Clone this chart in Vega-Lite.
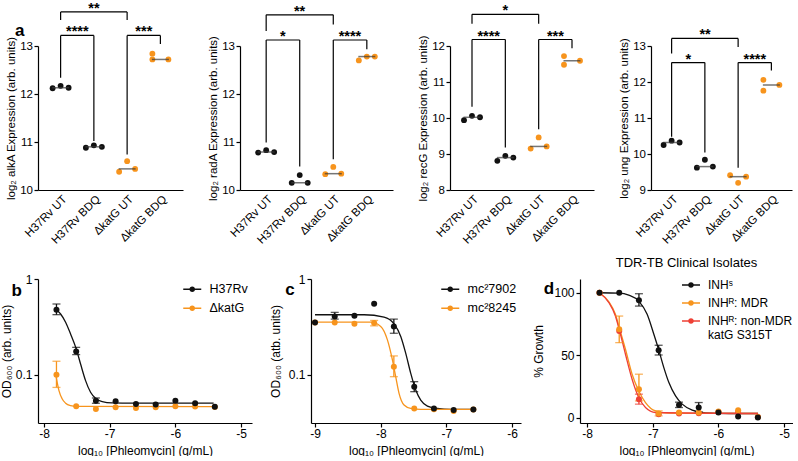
{
  "$schema": "https://vega.github.io/schema/vega-lite/v6.json",
  "background": "white",
  "padding": 0,
  "bounds": "flush",
  "spacing": 233,
  "resolve": {"scale": {"color": "independent", "xOffset": "independent"}, "legend": {"color": "independent"}},
  "config": {
    "font": "Liberation Sans",
    "view": {"stroke": null},
    "axis": {"labelFont": "Liberation Sans", "titleFont": "Liberation Sans", "labelColor": "#000", "titleColor": "#000", "domainColor": "#000", "tickColor": "#000", "domainWidth": 1.2, "tickWidth": 1.2, "tickSize": 4, "labelPadding": 2, "titleFontWeight": "normal", "grid": false, "labelOverlap": false},
    "legend": {"labelFont": "Liberation Sans", "labelColor": "#000", "symbolOpacity": 1},
    "text": {"font": "Liberation Sans", "color": "#000"},
    "title": {"font": "Liberation Sans", "color": "#000"}
  },
  "datasets": {
    "expr": [
      {"gene": "alkA", "cond": "H37Rv UT", "strain": "H37Rv", "slot": "L", "v": 12.12},
      {"gene": "alkA", "cond": "H37Rv UT", "strain": "H37Rv", "slot": "M", "v": 12.17},
      {"gene": "alkA", "cond": "H37Rv UT", "strain": "H37Rv", "slot": "R", "v": 12.13},
      {"gene": "alkA", "cond": "H37Rv BDQ", "strain": "H37Rv", "slot": "L", "v": 10.88},
      {"gene": "alkA", "cond": "H37Rv BDQ", "strain": "H37Rv", "slot": "M", "v": 10.93},
      {"gene": "alkA", "cond": "H37Rv BDQ", "strain": "H37Rv", "slot": "R", "v": 10.90},
      {"gene": "alkA", "cond": "ΔkatG UT", "strain": "ΔkatG", "slot": "L", "v": 10.38},
      {"gene": "alkA", "cond": "ΔkatG UT", "strain": "ΔkatG", "slot": "M", "v": 10.60},
      {"gene": "alkA", "cond": "ΔkatG UT", "strain": "ΔkatG", "slot": "R", "v": 10.44},
      {"gene": "alkA", "cond": "ΔkatG BDQ", "strain": "ΔkatG", "slot": "L", "v": 12.84},
      {"gene": "alkA", "cond": "ΔkatG BDQ", "strain": "ΔkatG", "slot": "L", "v": 12.72},
      {"gene": "alkA", "cond": "ΔkatG BDQ", "strain": "ΔkatG", "slot": "R", "v": 12.72},
      {"gene": "radA", "cond": "H37Rv UT", "strain": "H37Rv", "slot": "L", "v": 10.78},
      {"gene": "radA", "cond": "H37Rv UT", "strain": "H37Rv", "slot": "M", "v": 10.83},
      {"gene": "radA", "cond": "H37Rv UT", "strain": "H37Rv", "slot": "R", "v": 10.79},
      {"gene": "radA", "cond": "H37Rv BDQ", "strain": "H37Rv", "slot": "L", "v": 10.15},
      {"gene": "radA", "cond": "H37Rv BDQ", "strain": "H37Rv", "slot": "M", "v": 10.31},
      {"gene": "radA", "cond": "H37Rv BDQ", "strain": "H37Rv", "slot": "R", "v": 10.15},
      {"gene": "radA", "cond": "ΔkatG UT", "strain": "ΔkatG", "slot": "L", "v": 10.33},
      {"gene": "radA", "cond": "ΔkatG UT", "strain": "ΔkatG", "slot": "M", "v": 10.48},
      {"gene": "radA", "cond": "ΔkatG UT", "strain": "ΔkatG", "slot": "R", "v": 10.34},
      {"gene": "radA", "cond": "ΔkatG BDQ", "strain": "ΔkatG", "slot": "L", "v": 12.70},
      {"gene": "radA", "cond": "ΔkatG BDQ", "strain": "ΔkatG", "slot": "M", "v": 12.78},
      {"gene": "radA", "cond": "ΔkatG BDQ", "strain": "ΔkatG", "slot": "R", "v": 12.78},
      {"gene": "recG", "cond": "H37Rv UT", "strain": "H37Rv", "slot": "L", "v": 9.94},
      {"gene": "recG", "cond": "H37Rv UT", "strain": "H37Rv", "slot": "M", "v": 10.06},
      {"gene": "recG", "cond": "H37Rv UT", "strain": "H37Rv", "slot": "R", "v": 10.02},
      {"gene": "recG", "cond": "H37Rv BDQ", "strain": "H37Rv", "slot": "L", "v": 8.81},
      {"gene": "recG", "cond": "H37Rv BDQ", "strain": "H37Rv", "slot": "M", "v": 8.95},
      {"gene": "recG", "cond": "H37Rv BDQ", "strain": "H37Rv", "slot": "R", "v": 8.90},
      {"gene": "recG", "cond": "ΔkatG UT", "strain": "ΔkatG", "slot": "L", "v": 9.15},
      {"gene": "recG", "cond": "ΔkatG UT", "strain": "ΔkatG", "slot": "M", "v": 9.46},
      {"gene": "recG", "cond": "ΔkatG UT", "strain": "ΔkatG", "slot": "R", "v": 9.21},
      {"gene": "recG", "cond": "ΔkatG BDQ", "strain": "ΔkatG", "slot": "L", "v": 11.72},
      {"gene": "recG", "cond": "ΔkatG BDQ", "strain": "ΔkatG", "slot": "L", "v": 11.48},
      {"gene": "recG", "cond": "ΔkatG BDQ", "strain": "ΔkatG", "slot": "R", "v": 11.59},
      {"gene": "ung", "cond": "H37Rv UT", "strain": "H37Rv", "slot": "L", "v": 10.25},
      {"gene": "ung", "cond": "H37Rv UT", "strain": "H37Rv", "slot": "M", "v": 10.37},
      {"gene": "ung", "cond": "H37Rv UT", "strain": "H37Rv", "slot": "R", "v": 10.32},
      {"gene": "ung", "cond": "H37Rv BDQ", "strain": "H37Rv", "slot": "L", "v": 9.62},
      {"gene": "ung", "cond": "H37Rv BDQ", "strain": "H37Rv", "slot": "M", "v": 9.84},
      {"gene": "ung", "cond": "H37Rv BDQ", "strain": "H37Rv", "slot": "R", "v": 9.65},
      {"gene": "ung", "cond": "ΔkatG UT", "strain": "ΔkatG", "slot": "L", "v": 9.41},
      {"gene": "ung", "cond": "ΔkatG UT", "strain": "ΔkatG", "slot": "M", "v": 9.20},
      {"gene": "ung", "cond": "ΔkatG UT", "strain": "ΔkatG", "slot": "R", "v": 9.37},
      {"gene": "ung", "cond": "ΔkatG BDQ", "strain": "ΔkatG", "slot": "L", "v": 12.06},
      {"gene": "ung", "cond": "ΔkatG BDQ", "strain": "ΔkatG", "slot": "L", "v": 11.76},
      {"gene": "ung", "cond": "ΔkatG BDQ", "strain": "ΔkatG", "slot": "R", "v": 11.92}
    ],
    "br": [
      {"gene": "alkA", "kind": "inner", "xa": "H37Rv UT", "xb": "H37Rv BDQ", "top": 13.22, "la": 12.34, "lb": 11.02, "t": "****"},
      {"gene": "alkA", "kind": "inner", "xa": "ΔkatG UT", "xb": "ΔkatG BDQ", "top": 13.22, "la": 10.74, "lb": 13.04, "t": "***"},
      {"gene": "alkA", "kind": "outer", "xa": "H37Rv UT", "xb": "ΔkatG UT", "top": 13.71, "la": 13.54, "lb": 13.54, "t": "**"},
      {"gene": "radA", "kind": "inner", "xa": "H37Rv UT", "xb": "H37Rv BDQ", "top": 13.125, "la": 10.99, "lb": 10.49, "t": "*"},
      {"gene": "radA", "kind": "inner", "xa": "ΔkatG UT", "xb": "ΔkatG BDQ", "top": 13.125, "la": 10.64, "lb": 12.93, "t": "****"},
      {"gene": "radA", "kind": "outer", "xa": "H37Rv UT", "xb": "ΔkatG UT", "top": 13.65, "la": 13.31, "lb": 13.45, "t": "**"},
      {"gene": "recG", "kind": "inner", "xa": "H37Rv UT", "xb": "H37Rv BDQ", "top": 12.18, "la": 10.31, "lb": 9.18, "t": "****"},
      {"gene": "recG", "kind": "inner", "xa": "ΔkatG UT", "xb": "ΔkatG BDQ", "top": 12.18, "la": 9.69, "lb": 11.94, "t": "***"},
      {"gene": "recG", "kind": "outer", "xa": "H37Rv UT", "xb": "ΔkatG UT", "top": 12.88, "la": 12.62, "lb": 12.62, "t": "*"},
      {"gene": "ung", "kind": "inner", "xa": "H37Rv UT", "xb": "H37Rv BDQ", "top": 12.54, "la": 10.48, "lb": 10.04, "t": "*"},
      {"gene": "ung", "kind": "inner", "xa": "ΔkatG UT", "xb": "ΔkatG BDQ", "top": 12.54, "la": 9.62, "lb": 12.32, "t": "****"},
      {"gene": "ung", "kind": "outer", "xa": "H37Rv UT", "xb": "ΔkatG UT", "top": 13.21, "la": 12.79, "lb": 12.97, "t": "**"}
    ],
    "pts": [
      {"p": "b", "s": "ΔkatG", "x": -7.81, "y": 0.1008, "lo": 0.0742, "hi": 0.139},
      {"p": "b", "s": "ΔkatG", "x": -7.51, "y": 0.0472},
      {"p": "b", "s": "ΔkatG", "x": -7.21, "y": 0.0442},
      {"p": "b", "s": "ΔkatG", "x": -6.91, "y": 0.046},
      {"p": "b", "s": "ΔkatG", "x": -6.60, "y": 0.0453},
      {"p": "b", "s": "ΔkatG", "x": -6.30, "y": 0.046},
      {"p": "b", "s": "ΔkatG", "x": -6.00, "y": 0.0472},
      {"p": "b", "s": "ΔkatG", "x": -5.70, "y": 0.047},
      {"p": "b", "s": "ΔkatG", "x": -5.40, "y": 0.0465},
      {"p": "b", "s": "H37Rv", "x": -7.81, "y": 0.479, "lo": 0.425, "hi": 0.549},
      {"p": "b", "s": "H37Rv", "x": -7.51, "y": 0.176, "lo": 0.163, "hi": 0.194},
      {"p": "b", "s": "H37Rv", "x": -7.21, "y": 0.054, "lo": 0.0507, "hi": 0.0576},
      {"p": "b", "s": "H37Rv", "x": -6.91, "y": 0.0532},
      {"p": "b", "s": "H37Rv", "x": -6.60, "y": 0.0499},
      {"p": "b", "s": "H37Rv", "x": -6.30, "y": 0.0493},
      {"p": "b", "s": "H37Rv", "x": -6.00, "y": 0.054},
      {"p": "b", "s": "H37Rv", "x": -5.70, "y": 0.0508},
      {"p": "b", "s": "H37Rv", "x": -5.40, "y": 0.0468},
      {"p": "c", "s": "mc²8245", "x": -9.00, "y": 0.352},
      {"p": "c", "s": "mc²8245", "x": -8.70, "y": 0.352},
      {"p": "c", "s": "mc²8245", "x": -8.40, "y": 0.341},
      {"p": "c", "s": "mc²8245", "x": -8.10, "y": 0.347, "lo": 0.325, "hi": 0.370},
      {"p": "c", "s": "mc²8245", "x": -7.80, "y": 0.122, "lo": 0.096, "hi": 0.158},
      {"p": "c", "s": "mc²8245", "x": -7.49, "y": 0.0448},
      {"p": "c", "s": "mc²8245", "x": -7.19, "y": 0.044},
      {"p": "c", "s": "mc²8245", "x": -6.89, "y": 0.0421},
      {"p": "c", "s": "mc²8245", "x": -6.59, "y": 0.0437},
      {"p": "c", "s": "mc²7902", "x": -9.00, "y": 0.352},
      {"p": "c", "s": "mc²7902", "x": -8.70, "y": 0.407, "lo": 0.382, "hi": 0.449},
      {"p": "c", "s": "mc²7902", "x": -8.40, "y": 0.414},
      {"p": "c", "s": "mc²7902", "x": -8.10, "y": 0.552},
      {"p": "c", "s": "mc²7902", "x": -7.80, "y": 0.320, "lo": 0.272, "hi": 0.382},
      {"p": "c", "s": "mc²7902", "x": -7.49, "y": 0.0755, "lo": 0.067, "hi": 0.0852},
      {"p": "c", "s": "mc²7902", "x": -7.19, "y": 0.0448},
      {"p": "c", "s": "mc²7902", "x": -6.89, "y": 0.0431},
      {"p": "c", "s": "mc²7902", "x": -6.59, "y": 0.0437},
      {"p": "d", "s": "INHᴿ: non-MDR", "x": -7.81, "y": 100},
      {"p": "d", "s": "INHᴿ: non-MDR", "x": -7.51, "y": 69.3},
      {"p": "d", "s": "INHᴿ: non-MDR", "x": -7.21, "y": 14.7, "lo": 10.7, "hi": 18.7},
      {"p": "d", "s": "INHᴿ: non-MDR", "x": -6.91, "y": 2.7},
      {"p": "d", "s": "INHᴿ: non-MDR", "x": -6.60, "y": 3.2},
      {"p": "d", "s": "INHᴿ: non-MDR", "x": -6.30, "y": 3.5},
      {"p": "d", "s": "INHᴿ: non-MDR", "x": -6.00, "y": 4.5},
      {"p": "d", "s": "INHᴿ: non-MDR", "x": -5.70, "y": 4.5},
      {"p": "d", "s": "INHᴿ: non-MDR", "x": -5.40, "y": 0.5},
      {"p": "d", "s": "INHᴿ: MDR", "x": -7.81, "y": 100},
      {"p": "d", "s": "INHᴿ: MDR", "x": -7.51, "y": 70.7, "lo": 60, "hi": 81.3},
      {"p": "d", "s": "INHᴿ: MDR", "x": -7.21, "y": 22.7, "lo": 13.3, "hi": 34.7},
      {"p": "d", "s": "INHᴿ: MDR", "x": -6.91, "y": 3.2, "lo": 1.3, "hi": 5.3},
      {"p": "d", "s": "INHᴿ: MDR", "x": -6.60, "y": 4.0},
      {"p": "d", "s": "INHᴿ: MDR", "x": -6.30, "y": 4.0},
      {"p": "d", "s": "INHᴿ: MDR", "x": -6.00, "y": 4.8},
      {"p": "d", "s": "INHᴿ: MDR", "x": -5.70, "y": 5.9},
      {"p": "d", "s": "INHᴿ: MDR", "x": -5.40, "y": 0.5},
      {"p": "d", "s": "INHˢ", "x": -7.81, "y": 100},
      {"p": "d", "s": "INHˢ", "x": -7.51, "y": 100},
      {"p": "d", "s": "INHˢ", "x": -7.21, "y": 93.9, "lo": 89.3, "hi": 99.2},
      {"p": "d", "s": "INHˢ", "x": -6.91, "y": 53.9, "lo": 50.1, "hi": 57.9},
      {"p": "d", "s": "INHˢ", "x": -6.60, "y": 10.1, "lo": 8.0, "hi": 12.3},
      {"p": "d", "s": "INHˢ", "x": -6.30, "y": 8.0, "lo": 4.5, "hi": 12.0},
      {"p": "d", "s": "INHˢ", "x": -6.00, "y": 4.0},
      {"p": "d", "s": "INHˢ", "x": -5.70, "y": 0.8},
      {"p": "d", "s": "INHˢ", "x": -5.40, "y": 0}
    ],
    "fit": [
      {"p": "b", "s": "H37Rv", "x": -7.813, "y": 0.475},
      {"p": "b", "s": "H37Rv", "x": -7.747, "y": 0.432},
      {"p": "b", "s": "H37Rv", "x": -7.671, "y": 0.354},
      {"p": "b", "s": "H37Rv", "x": -7.595, "y": 0.267},
      {"p": "b", "s": "H37Rv", "x": -7.509, "y": 0.187},
      {"p": "b", "s": "H37Rv", "x": -7.443, "y": 0.130},
      {"p": "b", "s": "H37Rv", "x": -7.367, "y": 0.0873},
      {"p": "b", "s": "H37Rv", "x": -7.291, "y": 0.066},
      {"p": "b", "s": "H37Rv", "x": -7.215, "y": 0.0571},
      {"p": "b", "s": "H37Rv", "x": -7.114, "y": 0.0527},
      {"p": "b", "s": "H37Rv", "x": -6.962, "y": 0.0511},
      {"p": "b", "s": "H37Rv", "x": -6.658, "y": 0.0508},
      {"p": "b", "s": "H37Rv", "x": -5.418, "y": 0.0508},
      {"p": "b", "s": "ΔkatG", "x": -7.813, "y": 0.0946},
      {"p": "b", "s": "ΔkatG", "x": -7.772, "y": 0.0687},
      {"p": "b", "s": "ΔkatG", "x": -7.722, "y": 0.0562},
      {"p": "b", "s": "ΔkatG", "x": -7.671, "y": 0.0508},
      {"p": "b", "s": "ΔkatG", "x": -7.595, "y": 0.048},
      {"p": "b", "s": "ΔkatG", "x": -7.509, "y": 0.0472},
      {"p": "b", "s": "ΔkatG", "x": -5.418, "y": 0.0468},
      {"p": "c", "s": "mc²7902", "x": -9.0, "y": 0.424},
      {"p": "c", "s": "mc²7902", "x": -8.254, "y": 0.424},
      {"p": "c", "s": "mc²7902", "x": -7.949, "y": 0.401},
      {"p": "c", "s": "mc²7902", "x": -7.797, "y": 0.341},
      {"p": "c", "s": "mc²7902", "x": -7.695, "y": 0.252},
      {"p": "c", "s": "mc²7902", "x": -7.619, "y": 0.168},
      {"p": "c", "s": "mc²7902", "x": -7.543, "y": 0.104},
      {"p": "c", "s": "mc²7902", "x": -7.467, "y": 0.0697},
      {"p": "c", "s": "mc²7902", "x": -7.391, "y": 0.0548},
      {"p": "c", "s": "mc²7902", "x": -7.289, "y": 0.0474},
      {"p": "c", "s": "mc²7902", "x": -7.137, "y": 0.0448},
      {"p": "c", "s": "mc²7902", "x": -6.934, "y": 0.0438},
      {"p": "c", "s": "mc²7902", "x": -6.594, "y": 0.0438},
      {"p": "c", "s": "mc²8245", "x": -9.0, "y": 0.355},
      {"p": "c", "s": "mc²8245", "x": -8.152, "y": 0.355},
      {"p": "c", "s": "mc²8245", "x": -8.0, "y": 0.320},
      {"p": "c", "s": "mc²8245", "x": -7.898, "y": 0.232},
      {"p": "c", "s": "mc²8245", "x": -7.822, "y": 0.1435},
      {"p": "c", "s": "mc²8245", "x": -7.772, "y": 0.096},
      {"p": "c", "s": "mc²8245", "x": -7.721, "y": 0.0643},
      {"p": "c", "s": "mc²8245", "x": -7.645, "y": 0.0486},
      {"p": "c", "s": "mc²8245", "x": -7.543, "y": 0.0448},
      {"p": "c", "s": "mc²8245", "x": -7.391, "y": 0.0438},
      {"p": "c", "s": "mc²8245", "x": -6.594, "y": 0.0438},
      {"p": "d", "s": "INHˢ", "x": -7.812, "y": 100},
      {"p": "d", "s": "INHˢ", "x": -7.517, "y": 99.7},
      {"p": "d", "s": "INHˢ", "x": -7.365, "y": 98.1},
      {"p": "d", "s": "INHˢ", "x": -7.212, "y": 93.3},
      {"p": "d", "s": "INHˢ", "x": -7.085, "y": 82.7},
      {"p": "d", "s": "INHˢ", "x": -6.983, "y": 66.7},
      {"p": "d", "s": "INHˢ", "x": -6.907, "y": 53.9},
      {"p": "d", "s": "INHˢ", "x": -6.831, "y": 40},
      {"p": "d", "s": "INHˢ", "x": -6.754, "y": 28},
      {"p": "d", "s": "INHˢ", "x": -6.653, "y": 17.3},
      {"p": "d", "s": "INHˢ", "x": -6.551, "y": 10.7},
      {"p": "d", "s": "INHˢ", "x": -6.399, "y": 5.9},
      {"p": "d", "s": "INHˢ", "x": -6.195, "y": 3.7},
      {"p": "d", "s": "INHˢ", "x": -5.839, "y": 3.2},
      {"p": "d", "s": "INHˢ", "x": -5.397, "y": 3.2},
      {"p": "d", "s": "INHᴿ: MDR", "x": -7.812, "y": 100},
      {"p": "d", "s": "INHᴿ: MDR", "x": -7.670, "y": 92.8},
      {"p": "d", "s": "INHᴿ: MDR", "x": -7.568, "y": 82.7},
      {"p": "d", "s": "INHᴿ: MDR", "x": -7.507, "y": 71.5},
      {"p": "d", "s": "INHᴿ: MDR", "x": -7.415, "y": 54.7},
      {"p": "d", "s": "INHᴿ: MDR", "x": -7.314, "y": 34.7},
      {"p": "d", "s": "INHᴿ: MDR", "x": -7.212, "y": 21.3},
      {"p": "d", "s": "INHᴿ: MDR", "x": -7.110, "y": 12},
      {"p": "d", "s": "INHᴿ: MDR", "x": -6.958, "y": 5.3},
      {"p": "d", "s": "INHᴿ: MDR", "x": -6.754, "y": 3.5},
      {"p": "d", "s": "INHᴿ: MDR", "x": -5.397, "y": 3.2},
      {"p": "d", "s": "INHᴿ: non-MDR", "x": -7.812, "y": 100},
      {"p": "d", "s": "INHᴿ: non-MDR", "x": -7.670, "y": 92.3},
      {"p": "d", "s": "INHᴿ: non-MDR", "x": -7.568, "y": 81.3},
      {"p": "d", "s": "INHᴿ: non-MDR", "x": -7.507, "y": 69.9},
      {"p": "d", "s": "INHᴿ: non-MDR", "x": -7.415, "y": 50.7},
      {"p": "d", "s": "INHᴿ: non-MDR", "x": -7.314, "y": 30.7},
      {"p": "d", "s": "INHᴿ: non-MDR", "x": -7.212, "y": 16},
      {"p": "d", "s": "INHᴿ: non-MDR", "x": -7.110, "y": 8},
      {"p": "d", "s": "INHᴿ: non-MDR", "x": -6.958, "y": 4},
      {"p": "d", "s": "INHᴿ: non-MDR", "x": -5.397, "y": 3.2}
    ]
  },
  "vconcat": [
    {
      "bounds": "flush",
      "spacing": 57,
      "resolve": {"scale": {"color": "independent", "xOffset": "independent"}, "legend": {"color": "independent"}},
      "hconcat": [
        {
          "width": 145, "height": 144,
          "data": {"name": "expr"},
          "transform": [{"filter": "datum.gene == 'alkA'"}],
          "layer": [
            {"mark": {"type": "circle", "size": 34, "opacity": 1},
             "encoding": {
               "x": {"field": "cond", "type": "nominal", "scale": {"type": "point", "domain": ["H37Rv UT", "H37Rv BDQ", "ΔkatG UT", "ΔkatG BDQ"], "padding": 0.68}, "axis": {"title": null, "labelAngle": -45, "ticks": false, "labelPadding": 3, "labelFontSize": 11.5}},
               "xOffset": {"field": "slot", "type": "nominal", "scale": {"type": "point", "domain": ["L", "M", "R"], "range": [-8, 8], "padding": 0}},
               "y": {"field": "v", "type": "quantitative", "scale": {"domain": [10, 13], "nice": false, "zero": false}, "axis": {"title": "log₂ alkA Expression (arb. units)", "values": [10, 11, 12, 13], "format": "d", "tickCount": 10, "labelOverlap": false, "labelFontSize": 11.5, "titleFontSize": 11.5, "titlePadding": 3, "labelPadding": 1.5}},
               "color": {"field": "strain", "type": "nominal", "scale": {"domain": ["H37Rv", "ΔkatG"], "range": ["#111111", "#F7941D"]}, "legend": null}
             }},
            {"transform": [{"aggregate": [{"op": "median", "field": "v", "as": "med"}], "groupby": ["cond"]}],
             "mark": {"type": "tick", "size": 17, "thickness": 1.5, "color": "#3a3a3a"},
             "encoding": {"x": {"field": "cond", "type": "nominal"}, "y": {"field": "med", "type": "quantitative"}}},
            {"data": {"name": "br"}, "transform": [{"filter": "datum.gene == 'alkA'"}], "mark": {"type": "rule", "strokeWidth": 1.2, "color": "#000"},
             "encoding": {"x": {"field": "xa", "type": "nominal"}, "x2": {"field": "xb"}, "y": {"field": "top", "type": "quantitative"}}},
            {"data": {"name": "br"}, "transform": [{"filter": "datum.gene == 'alkA'"}], "mark": {"type": "rule", "strokeWidth": 1.2, "color": "#000"},
             "encoding": {"x": {"field": "xa", "type": "nominal"}, "y": {"field": "top", "type": "quantitative"}, "y2": {"field": "la"}}},
            {"data": {"name": "br"}, "transform": [{"filter": "datum.gene == 'alkA'"}], "mark": {"type": "rule", "strokeWidth": 1.2, "color": "#000"},
             "encoding": {"x": {"field": "xb", "type": "nominal"}, "y": {"field": "top", "type": "quantitative"}, "y2": {"field": "lb"}}},
            {"data": {"name": "br"}, "transform": [{"filter": "datum.gene == 'alkA' && datum.kind == 'inner'"}], "mark": {"type": "text", "fontSize": 14.5, "fontWeight": "bold", "baseline": "alphabetic", "dx": 16.7, "dy": 1},
             "encoding": {"x": {"field": "xa", "type": "nominal"}, "y": {"field": "top", "type": "quantitative"}, "text": {"field": "t"}}},
            {"data": {"name": "br"}, "transform": [{"filter": "datum.gene == 'alkA' && datum.kind == 'outer'"}], "mark": {"type": "text", "fontSize": 14.5, "fontWeight": "bold", "baseline": "alphabetic", "dx": 33.4, "dy": 1},
             "encoding": {"x": {"field": "xa", "type": "nominal"}, "y": {"field": "top", "type": "quantitative"}, "text": {"field": "t"}}},
            {"data": {"values": [{}]}, "mark": {"type": "text", "text": "a", "fontSize": 17, "fontWeight": "bold", "align": "center", "baseline": "alphabetic", "dx": -41},
             "encoding": {"x": {"datum": "H37Rv UT", "type": "nominal"}, "y": {"datum": 13.2, "type": "quantitative"}}}
          ]
        },
        {
          "width": 153, "height": 144,
          "data": {"name": "expr"},
          "transform": [{"filter": "datum.gene == 'radA'"}],
          "layer": [
            {"mark": {"type": "circle", "size": 34, "opacity": 1},
             "encoding": {
               "x": {"field": "cond", "type": "nominal", "scale": {"type": "point", "domain": ["H37Rv UT", "H37Rv BDQ", "ΔkatG UT", "ΔkatG BDQ"], "padding": 0.78}, "axis": {"title": null, "labelAngle": -45, "ticks": false, "labelPadding": 3, "labelFontSize": 11.5}},
               "xOffset": {"field": "slot", "type": "nominal", "scale": {"type": "point", "domain": ["L", "M", "R"], "range": [-8, 8], "padding": 0}},
               "y": {"field": "v", "type": "quantitative", "scale": {"domain": [10, 13], "nice": false, "zero": false}, "axis": {"title": "log₂ radA Expression (arb. units)", "values": [10, 11, 12, 13], "format": "d", "tickCount": 10, "labelOverlap": false, "labelFontSize": 11.5, "titleFontSize": 11.5, "titlePadding": 3, "labelPadding": 1.5}},
               "color": {"field": "strain", "type": "nominal", "scale": {"domain": ["H37Rv", "ΔkatG"], "range": ["#111111", "#F7941D"]}, "legend": null}
             }},
            {"transform": [{"aggregate": [{"op": "median", "field": "v", "as": "med"}], "groupby": ["cond"]}],
             "mark": {"type": "tick", "size": 17, "thickness": 1.5, "color": "#3a3a3a"},
             "encoding": {"x": {"field": "cond", "type": "nominal"}, "y": {"field": "med", "type": "quantitative"}}},
            {"data": {"name": "br"}, "transform": [{"filter": "datum.gene == 'radA'"}], "mark": {"type": "rule", "strokeWidth": 1.2, "color": "#000"},
             "encoding": {"x": {"field": "xa", "type": "nominal"}, "x2": {"field": "xb"}, "y": {"field": "top", "type": "quantitative"}}},
            {"data": {"name": "br"}, "transform": [{"filter": "datum.gene == 'radA'"}], "mark": {"type": "rule", "strokeWidth": 1.2, "color": "#000"},
             "encoding": {"x": {"field": "xa", "type": "nominal"}, "y": {"field": "top", "type": "quantitative"}, "y2": {"field": "la"}}},
            {"data": {"name": "br"}, "transform": [{"filter": "datum.gene == 'radA'"}], "mark": {"type": "rule", "strokeWidth": 1.2, "color": "#000"},
             "encoding": {"x": {"field": "xb", "type": "nominal"}, "y": {"field": "top", "type": "quantitative"}, "y2": {"field": "lb"}}},
            {"data": {"name": "br"}, "transform": [{"filter": "datum.gene == 'radA' && datum.kind == 'inner'"}], "mark": {"type": "text", "fontSize": 14.5, "fontWeight": "bold", "baseline": "alphabetic", "dx": 16.7, "dy": 1},
             "encoding": {"x": {"field": "xa", "type": "nominal"}, "y": {"field": "top", "type": "quantitative"}, "text": {"field": "t"}}},
            {"data": {"name": "br"}, "transform": [{"filter": "datum.gene == 'radA' && datum.kind == 'outer'"}], "mark": {"type": "text", "fontSize": 14.5, "fontWeight": "bold", "baseline": "alphabetic", "dx": 33.4, "dy": 1},
             "encoding": {"x": {"field": "xa", "type": "nominal"}, "y": {"field": "top", "type": "quantitative"}, "text": {"field": "t"}}}
          ]
        },
        {
          "width": 144, "height": 144,
          "data": {"name": "expr"},
          "transform": [{"filter": "datum.gene == 'recG'"}],
          "layer": [
            {"mark": {"type": "circle", "size": 34, "opacity": 1},
             "encoding": {
               "x": {"field": "cond", "type": "nominal", "scale": {"type": "point", "domain": ["H37Rv UT", "H37Rv BDQ", "ΔkatG UT", "ΔkatG BDQ"], "padding": 0.66}, "axis": {"title": null, "labelAngle": -45, "ticks": false, "labelPadding": 3, "labelFontSize": 11.5}},
               "xOffset": {"field": "slot", "type": "nominal", "scale": {"type": "point", "domain": ["L", "M", "R"], "range": [-8, 8], "padding": 0}},
               "y": {"field": "v", "type": "quantitative", "scale": {"domain": [8, 12], "nice": false, "zero": false}, "axis": {"title": "log₂ recG Expression (arb. units)", "values": [8, 9, 10, 11, 12], "format": "d", "tickCount": 10, "labelOverlap": false, "labelFontSize": 11.5, "titleFontSize": 11.5, "titlePadding": 3, "labelPadding": 1.5}},
               "color": {"field": "strain", "type": "nominal", "scale": {"domain": ["H37Rv", "ΔkatG"], "range": ["#111111", "#F7941D"]}, "legend": null}
             }},
            {"transform": [{"aggregate": [{"op": "median", "field": "v", "as": "med"}], "groupby": ["cond"]}],
             "mark": {"type": "tick", "size": 17, "thickness": 1.5, "color": "#3a3a3a"},
             "encoding": {"x": {"field": "cond", "type": "nominal"}, "y": {"field": "med", "type": "quantitative"}}},
            {"data": {"name": "br"}, "transform": [{"filter": "datum.gene == 'recG'"}], "mark": {"type": "rule", "strokeWidth": 1.2, "color": "#000"},
             "encoding": {"x": {"field": "xa", "type": "nominal"}, "x2": {"field": "xb"}, "y": {"field": "top", "type": "quantitative"}}},
            {"data": {"name": "br"}, "transform": [{"filter": "datum.gene == 'recG'"}], "mark": {"type": "rule", "strokeWidth": 1.2, "color": "#000"},
             "encoding": {"x": {"field": "xa", "type": "nominal"}, "y": {"field": "top", "type": "quantitative"}, "y2": {"field": "la"}}},
            {"data": {"name": "br"}, "transform": [{"filter": "datum.gene == 'recG'"}], "mark": {"type": "rule", "strokeWidth": 1.2, "color": "#000"},
             "encoding": {"x": {"field": "xb", "type": "nominal"}, "y": {"field": "top", "type": "quantitative"}, "y2": {"field": "lb"}}},
            {"data": {"name": "br"}, "transform": [{"filter": "datum.gene == 'recG' && datum.kind == 'inner'"}], "mark": {"type": "text", "fontSize": 14.5, "fontWeight": "bold", "baseline": "alphabetic", "dx": 16.7, "dy": 1},
             "encoding": {"x": {"field": "xa", "type": "nominal"}, "y": {"field": "top", "type": "quantitative"}, "text": {"field": "t"}}},
            {"data": {"name": "br"}, "transform": [{"filter": "datum.gene == 'recG' && datum.kind == 'outer'"}], "mark": {"type": "text", "fontSize": 14.5, "fontWeight": "bold", "baseline": "alphabetic", "dx": 33.4, "dy": 1},
             "encoding": {"x": {"field": "xa", "type": "nominal"}, "y": {"field": "top", "type": "quantitative"}, "text": {"field": "t"}}}
          ]
        },
        {
          "width": 141, "height": 144,
          "data": {"name": "expr"},
          "transform": [{"filter": "datum.gene == 'ung'"}],
          "layer": [
            {"mark": {"type": "circle", "size": 34, "opacity": 1},
             "encoding": {
               "x": {"field": "cond", "type": "nominal", "scale": {"type": "point", "domain": ["H37Rv UT", "H37Rv BDQ", "ΔkatG UT", "ΔkatG BDQ"], "padding": 0.62}, "axis": {"title": null, "labelAngle": -45, "ticks": false, "labelPadding": 3, "labelFontSize": 11.5}},
               "xOffset": {"field": "slot", "type": "nominal", "scale": {"type": "point", "domain": ["L", "M", "R"], "range": [-8, 8], "padding": 0}},
               "y": {"field": "v", "type": "quantitative", "scale": {"domain": [9, 13], "nice": false, "zero": false}, "axis": {"title": "log₂ ung Expression (arb. units)", "values": [9, 10, 11, 12, 13], "format": "d", "tickCount": 10, "labelOverlap": false, "labelFontSize": 11.5, "titleFontSize": 11.5, "titlePadding": 3, "labelPadding": 1.5}},
               "color": {"field": "strain", "type": "nominal", "scale": {"domain": ["H37Rv", "ΔkatG"], "range": ["#111111", "#F7941D"]}, "legend": null}
             }},
            {"transform": [{"aggregate": [{"op": "median", "field": "v", "as": "med"}], "groupby": ["cond"]}],
             "mark": {"type": "tick", "size": 17, "thickness": 1.5, "color": "#3a3a3a"},
             "encoding": {"x": {"field": "cond", "type": "nominal"}, "y": {"field": "med", "type": "quantitative"}}},
            {"data": {"name": "br"}, "transform": [{"filter": "datum.gene == 'ung'"}], "mark": {"type": "rule", "strokeWidth": 1.2, "color": "#000"},
             "encoding": {"x": {"field": "xa", "type": "nominal"}, "x2": {"field": "xb"}, "y": {"field": "top", "type": "quantitative"}}},
            {"data": {"name": "br"}, "transform": [{"filter": "datum.gene == 'ung'"}], "mark": {"type": "rule", "strokeWidth": 1.2, "color": "#000"},
             "encoding": {"x": {"field": "xa", "type": "nominal"}, "y": {"field": "top", "type": "quantitative"}, "y2": {"field": "la"}}},
            {"data": {"name": "br"}, "transform": [{"filter": "datum.gene == 'ung'"}], "mark": {"type": "rule", "strokeWidth": 1.2, "color": "#000"},
             "encoding": {"x": {"field": "xb", "type": "nominal"}, "y": {"field": "top", "type": "quantitative"}, "y2": {"field": "lb"}}},
            {"data": {"name": "br"}, "transform": [{"filter": "datum.gene == 'ung' && datum.kind == 'inner'"}], "mark": {"type": "text", "fontSize": 14.5, "fontWeight": "bold", "baseline": "alphabetic", "dx": 16.7, "dy": 1},
             "encoding": {"x": {"field": "xa", "type": "nominal"}, "y": {"field": "top", "type": "quantitative"}, "text": {"field": "t"}}},
            {"data": {"name": "br"}, "transform": [{"filter": "datum.gene == 'ung' && datum.kind == 'outer'"}], "mark": {"type": "text", "fontSize": 14.5, "fontWeight": "bold", "baseline": "alphabetic", "dx": 33.4, "dy": 1},
             "encoding": {"x": {"field": "xa", "type": "nominal"}, "y": {"field": "top", "type": "quantitative"}, "text": {"field": "t"}}}
          ]
        }
      ]
    },
    {
      "bounds": "flush",
      "spacing": 59,
      "resolve": {"scale": {"color": "independent"}, "legend": {"color": "independent"}},
      "hconcat": [
        {
          "width": 214, "height": 144,
          "layer": [
            {"data": {"name": "fit"}, "transform": [{"filter": "datum.p == 'b'"}],
             "mark": {"type": "line", "interpolate": "monotone", "strokeWidth": 1.3},
             "encoding": {
               "x": {"field": "x", "type": "quantitative", "scale": {"domain": [-8.091, -4.834], "nice": false, "zero": false}, "axis": {"values": [-8, -7, -6, -5], "labelExpr": "datum.value + ''", "title": "log₁₀ [Phleomycin] (g/mL)", "labelFontSize": 12, "titleFontSize": 12, "labelPadding": 1, "titlePadding": 6}},
               "y": {"field": "y", "type": "quantitative", "scale": {"type": "log", "domain": [0.0316, 1], "nice": false}, "axis": {"values": [0.1, 1], "labelExpr": "datum.value + ''", "title": "OD₆₀₀ (arb. units)", "labelFontSize": 12, "titleFontSize": 12, "titlePadding": 2}},
               "color": {"field": "s", "type": "nominal", "scale": {"domain": ["H37Rv", "ΔkatG"], "range": ["#111111", "#F7941D"]}, "legend": {"title": null, "orient": "top-right", "offset": 4, "padding": 0, "symbolType": "M-3,-0.22L3,-0.22L3,0.22L-3,0.22Z M0.95,0A0.95,0.95,0,1,1,-0.95,0A0.95,0.95,0,1,1,0.95,0Z", "symbolSize": 36, "symbolStrokeWidth": 0, "symbolOpacity": 1, "labelFontSize": 12.5, "labelOffset": 11, "rowPadding": 6}}
             }},
            {"data": {"name": "pts"}, "transform": [{"filter": "datum.p == 'b' && isValid(datum.lo)"}],
             "mark": {"type": "errorbar", "thickness": 1.3, "ticks": {"size": 8}},
             "encoding": {"x": {"field": "x", "type": "quantitative"}, "y": {"field": "lo", "type": "quantitative", "title": "OD₆₀₀ (arb. units)"}, "y2": {"field": "hi"}, "color": {"field": "s", "type": "nominal"}}},
            {"data": {"name": "pts"}, "transform": [{"filter": "datum.p == 'b'"}],
             "mark": {"type": "circle", "size": 36, "opacity": 1},
             "encoding": {"x": {"field": "x", "type": "quantitative"}, "y": {"field": "y", "type": "quantitative", "title": "OD₆₀₀ (arb. units)"}, "color": {"field": "s", "type": "nominal"}}},
            {"data": {"values": [{}]}, "mark": {"type": "text", "text": "b", "fontSize": 17, "fontWeight": "bold", "align": "center", "baseline": "alphabetic"},
             "encoding": {"x": {"datum": -8.415}, "y": {"datum": 0.665}}}
          ]
        },
        {
          "width": 210, "height": 144,
          "layer": [
            {"data": {"name": "fit"}, "transform": [{"filter": "datum.p == 'c'"}],
             "mark": {"type": "line", "interpolate": "monotone", "strokeWidth": 1.3},
             "encoding": {
               "x": {"field": "x", "type": "quantitative", "scale": {"domain": [-9.061, -5.865], "nice": false, "zero": false}, "axis": {"values": [-9, -8, -7, -6], "labelExpr": "datum.value + ''", "title": "log₁₀ [Phleomycin] (g/mL)", "labelFontSize": 12, "titleFontSize": 12, "labelPadding": 1, "titlePadding": 6}},
               "y": {"field": "y", "type": "quantitative", "scale": {"type": "log", "domain": [0.0316, 1], "nice": false}, "axis": {"values": [0.1, 1], "labelExpr": "datum.value + ''", "title": "OD₆₀₀ (atb. units)", "labelFontSize": 12, "titleFontSize": 12, "titlePadding": 6}},
               "color": {"field": "s", "type": "nominal", "scale": {"domain": ["mc²7902", "mc²8245"], "range": ["#111111", "#F7941D"]}, "legend": {"title": null, "orient": "top-right", "offset": 4, "padding": 0, "symbolType": "M-3,-0.22L3,-0.22L3,0.22L-3,0.22Z M0.95,0A0.95,0.95,0,1,1,-0.95,0A0.95,0.95,0,1,1,0.95,0Z", "symbolSize": 36, "symbolStrokeWidth": 0, "symbolOpacity": 1, "labelFontSize": 12.5, "labelOffset": 11, "rowPadding": 6}}
             }},
            {"data": {"name": "pts"}, "transform": [{"filter": "datum.p == 'c' && isValid(datum.lo)"}],
             "mark": {"type": "errorbar", "thickness": 1.3, "ticks": {"size": 8}},
             "encoding": {"x": {"field": "x", "type": "quantitative"}, "y": {"field": "lo", "type": "quantitative", "title": "OD₆₀₀ (atb. units)"}, "y2": {"field": "hi"}, "color": {"field": "s", "type": "nominal"}}},
            {"data": {"name": "pts"}, "transform": [{"filter": "datum.p == 'c'"}],
             "mark": {"type": "circle", "size": 36, "opacity": 1},
             "encoding": {"x": {"field": "x", "type": "quantitative"}, "y": {"field": "y", "type": "quantitative", "title": "OD₆₀₀ (atb. units)"}, "color": {"field": "s", "type": "nominal"}}},
            {"data": {"values": [{}]}, "mark": {"type": "text", "text": "c", "fontSize": 17, "fontWeight": "bold", "align": "center", "baseline": "alphabetic"},
             "encoding": {"x": {"datum": -9.38}, "y": {"datum": 0.68}}}
          ]
        },
        {
          "width": 213, "height": 144,
          "title": {"text": "TDR-TB Clinical Isolates", "fontSize": 13, "fontWeight": "normal", "offset": 9, "anchor": "middle"},
          "layer": [
            {"data": {"name": "fit"}, "transform": [{"filter": "datum.p == 'd'"}],
             "mark": {"type": "line", "interpolate": "monotone", "strokeWidth": 1.3},
             "encoding": {
               "x": {"field": "x", "type": "quantitative", "scale": {"domain": [-8.107, -4.865], "nice": false, "zero": false}, "axis": {"values": [-8, -7, -6, -5], "labelExpr": "datum.value + ''", "title": "log₁₀ [Phleomycin] (g/mL)", "labelFontSize": 12, "titleFontSize": 12, "labelPadding": 1, "titlePadding": 6}},
               "y": {"field": "y", "type": "quantitative", "scale": {"domain": [-4.4, 111], "nice": false, "zero": false}, "axis": {"values": [0, 50, 100], "title": "% Growth", "labelFontSize": 12, "titleFontSize": 12, "titlePadding": 8}},
               "color": {"field": "s", "type": "nominal", "scale": {"domain": ["INHˢ", "INHᴿ: MDR", "INHᴿ: non-MDR"], "range": ["#111111", "#F7941D", "#EE4035"]}, "legend": {"title": null, "orient": "top-right", "offset": 0, "padding": 0, "symbolType": "M-3,-0.22L3,-0.22L3,0.22L-3,0.22Z M0.95,0A0.95,0.95,0,1,1,-0.95,0A0.95,0.95,0,1,1,0.95,0Z", "symbolSize": 36, "symbolStrokeWidth": 0, "symbolOpacity": 1, "labelFontSize": 12, "labelOffset": 11, "rowPadding": 6, "labelExpr": "datum.label == 'INHᴿ: non-MDR' ? ['INHᴿ: non-MDR', 'katG S315T'] : datum.label"}}
             }},
            {"data": {"name": "pts"}, "transform": [{"filter": "datum.p == 'd' && isValid(datum.lo)"}],
             "mark": {"type": "errorbar", "thickness": 1.3, "ticks": {"size": 8}},
             "encoding": {"x": {"field": "x", "type": "quantitative"}, "y": {"field": "lo", "type": "quantitative", "title": "% Growth"}, "y2": {"field": "hi"}, "color": {"field": "s", "type": "nominal"}}},
            {"data": {"name": "pts"}, "transform": [{"filter": "datum.p == 'd'"}],
             "mark": {"type": "circle", "size": 36, "opacity": 1},
             "encoding": {"x": {"field": "x", "type": "quantitative"}, "y": {"field": "y", "type": "quantitative", "title": "% Growth"}, "color": {"field": "s", "type": "nominal"}}},
            {"data": {"values": [{}]}, "mark": {"type": "text", "text": "d", "fontSize": 17, "fontWeight": "bold", "align": "center", "baseline": "alphabetic"},
             "encoding": {"x": {"datum": -8.579}, "y": {"datum": 99}}}
          ]
        }
      ]
    }
  ]
}
